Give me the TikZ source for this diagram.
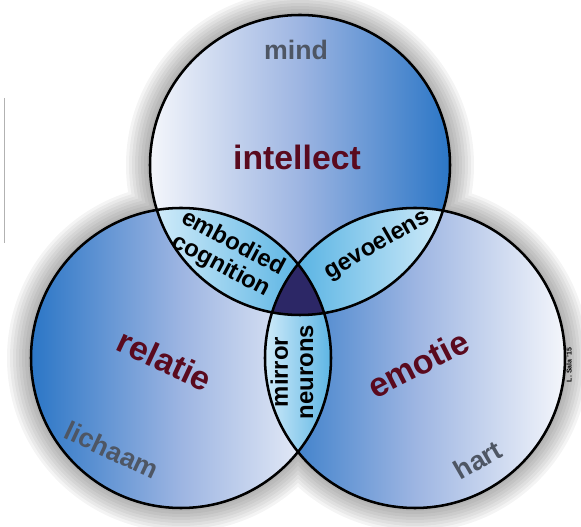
\documentclass[tikz,border=0pt]{standalone}
\usepackage{fontspec}
\setmainfont{Liberation Sans}
\definecolor{deepblue}{HTML}{2B76C6}
\definecolor{paleblue}{HTML}{F4F6FB}
\definecolor{midblue}{HTML}{9DB5E2}
\definecolor{lenslight}{HTML}{D4EDFA}
\definecolor{lensblue}{HTML}{58B3E3}
\definecolor{core}{HTML}{2C2766}
\definecolor{wine}{HTML}{5A0A1E}
\definecolor{slate}{HTML}{4E5664}
\tikzset{
  ring/.style={draw=black,line width=1.8pt},
  bigword/.style={text=wine,font=\fontsize{24}{24}\selectfont\bfseries},
  smallword/.style={text=slate,font=\fontsize{19}{19}\selectfont\bfseries},
  lensword/.style={text=black,align=center,font=\fontsize{17}{18}\selectfont\bfseries}
}
\begin{document}
\begin{tikzpicture}[x=0.025cm,y=0.025cm]
\useasboundingbox (0,0) rectangle (581,527);
\coordinate (top) at (300,362);
\coordinate (left) at (181,169);
\coordinate (right) at (415,169);
\coordinate (edgea) at (4.5,429);
\coordinate (edgeb) at (4.5,284);
\draw[gray!60,line width=0.6pt] (edgea) -- (edgeb);
% soft shadow round the three circles
\foreach \d in {3,6,...,24}
  \fill[black,opacity=0.045] (top) circle (150+\d) (left) circle (150+\d) (right) circle (150+\d);
\fill[white] (top) circle (150) (left) circle (150) (right) circle (150);
% circles
\shade[left color=paleblue,right color=deepblue,middle color=midblue] (top) circle (150);
\begin{scope}
  \clip (left) circle (150);
  \shade[left color=deepblue,right color=paleblue,middle color=midblue] (left) circle (150);
\end{scope}
\begin{scope}
  \clip (right) circle (150);
  \shade[left color=deepblue,right color=paleblue,middle color=midblue] (right) circle (150);
\end{scope}
% lenses
\begin{scope}
  \clip (top) circle (150);
  \clip (left) circle (150);
  \shade[left color=lenslight,right color=lensblue] (150,190) rectangle (305,330);
\end{scope}
\begin{scope}
  \clip (top) circle (150);
  \clip (right) circle (150);
  \shade[left color=lensblue,right color=lenslight] (295,190) rectangle (450,330);
\end{scope}
\begin{scope}
  \clip (left) circle (150);
  \clip (right) circle (150);
  \shade[left color=lenslight,right color=lensblue] (262,70) rectangle (334,270);
\end{scope}
\begin{scope}
  \clip (top) circle (150);
  \clip (left) circle (150);
  \fill[core] (right) circle (150);
\end{scope}
\draw[ring] (top) circle (150);
\draw[ring] (left) circle (150);
\draw[ring] (right) circle (150);
% labels
\node[smallword] (mind) at (296,477) {mind};
\node[bigword] (intellect) at (297,370) {intellect};
\node[bigword,rotate=-25] (relatie) at (165,167) {relatie};
\node[bigword,rotate=27] (emotie) at (418,163) {emotie};
\node[smallword,rotate=-25] (lichaam) at (112,77) {lichaam};
\node[smallword,rotate=30] (hart) at (478,67) {hart};
\node[lensword,rotate=-28] (embodied) at (227,272) {embodied\\cognition};
\node[lensword,rotate=30] (gevoelens) at (377,282) {gevoelens};
\node[lensword,rotate=90] (mirror) at (292,155) {mirror\\neurons};
\node[text=black,rotate=90,font=\fontsize{5}{5}\selectfont\bfseries] (credit) at (569,162) {L. Sala '15};
\end{tikzpicture}
\end{document}
